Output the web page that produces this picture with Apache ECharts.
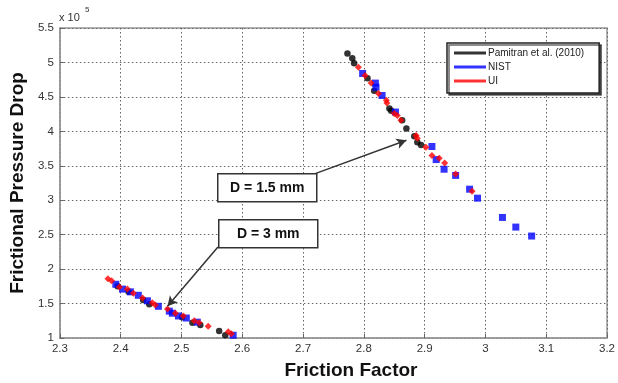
<!DOCTYPE html>
<html><head><meta charset="utf-8">
<script src="https://cdn.jsdelivr.net/npm/echarts@6/dist/echarts.min.js"></script>
<style>html,body{margin:0;padding:0;background:#fff}#c{width:618px;height:383px}</style>
</head><body><div id="c"></div>
<script>
// values: [friction factor, frictional pressure drop (x 10^5)]
const pamitran = [
  [2.773,5.13],[2.781,5.06],[2.784,4.99],[2.806,4.77],[2.817,4.59],[2.842,4.33],[2.845,4.30],
  [2.863,4.16],[2.870,4.04],[2.883,3.93],[2.888,3.84],[2.894,3.80],
  [2.395,1.75],[2.413,1.67],[2.437,1.55],[2.447,1.49],[2.501,1.30],[2.518,1.22],[2.531,1.19],
  [2.562,1.10],[2.572,1.04]
];
const nist = [
  [2.798,4.84],[2.819,4.70],[2.820,4.64],[2.830,4.52],[2.852,4.28],[2.912,3.78],[2.919,3.59],
  [2.932,3.45],[2.951,3.36],[2.974,3.16],[2.987,3.03],[3.028,2.75],[3.050,2.61],[3.076,2.48],
  [2.392,1.78],[2.403,1.71],[2.416,1.67],[2.429,1.62],[2.444,1.54],[2.462,1.46],[2.480,1.39],
  [2.485,1.36],[2.495,1.32],[2.508,1.29],[2.526,1.23],[2.585,1.04]
];
const ui = [
  [2.791,4.93],[2.802,4.81],[2.812,4.70],[2.824,4.55],[2.837,4.45],[2.838,4.41],[2.850,4.26],
  [2.855,4.23],[2.861,4.16],[2.886,3.94],[2.888,3.90],[2.902,3.77],[2.912,3.65],[2.924,3.61],
  [2.933,3.54],[2.951,3.38],[2.978,3.13],
  [2.379,1.86],[2.385,1.83],[2.398,1.74],[2.411,1.71],[2.421,1.65],[2.436,1.58],[2.452,1.51],
  [2.457,1.48],[2.477,1.42],[2.490,1.36],[2.503,1.32],[2.521,1.25],[2.529,1.22],[2.544,1.17],
  [2.577,1.09],[2.582,1.06]
];
const seriesNames = ['Pamitran et al. (2010)','NIST','UI'];
const xTicks = {min:2.3, max:3.2, interval:0.1};
const yTicks = {min:1, max:5.5, interval:0.5};
const xTitle = 'Friction Factor';
const yTitle = 'Frictional Pressure Drop';
// annotation arrows (data coords): [from, to]
const arrow15 = [[2.721,3.39],[2.870,3.87]];
const arrow3 = [[2.560,2.32],[2.477,1.46]];

const chart = echarts.init(document.getElementById('c'));
const font = 'Liberation Sans, Arial, sans-serif';
const boxStyle = {fill:'#fff', stroke:'#333', lineWidth:1.5};
const gridLine = {show:true, lineStyle:{color:'#666', type:[1.5,2.5], width:1}};
chart.setOption({
  animation:false,
  grid:{left:59, right:9, top:28, bottom:45, show:true, borderColor:'#999', borderWidth:1.5},
  xAxis:{type:'value', min:xTicks.min, max:xTicks.max, interval:xTicks.interval,
    axisLine:{show:true, lineStyle:{color:'#999', width:1.5}},
    axisTick:{show:true, inside:true, length:4, lineStyle:{color:'#666'}},
    axisLabel:{fontFamily:font, fontSize:11.5, color:'#333', margin:5,
      formatter:v=>String(+v.toFixed(1))},
    splitLine:gridLine},
  yAxis:{type:'value', min:yTicks.min, max:yTicks.max, interval:yTicks.interval,
    name:yTitle, nameLocation:'middle', nameGap:31,
    nameTextStyle:{fontFamily:font, fontWeight:'bold', fontSize:19, color:'#111'},
    axisLine:{show:true, lineStyle:{color:'#999', width:1.5}},
    axisTick:{show:true, inside:true, length:4, lineStyle:{color:'#666'}},
    axisLabel:{fontFamily:font, fontSize:11.5, color:'#333', margin:6,
      formatter:v=>String(+v.toFixed(1))},
    splitLine:gridLine},
  legend:{orient:'vertical', left:447, top:43,
    data:seriesNames, icon:'rect', itemWidth:32, itemHeight:3, itemGap:4,
    padding:[5,15,7,7], backgroundColor:'#fff', borderColor:'#222', borderWidth:1.5,
    shadowColor:'rgba(0,0,0,0.6)', shadowOffsetX:2, shadowOffsetY:2, shadowBlur:0,
    textStyle:{fontFamily:font, fontSize:10, color:'#222', padding:[0,0,0,-3]}},
  series:[
    {name:seriesNames[0], type:'scatter', data:pamitran, symbol:'circle', symbolSize:6.5,
      itemStyle:{color:'#000'}, z:2,
      markLine:{silent:true, symbol:['none','arrow'], symbolSize:[8,10],
        label:{show:false}, lineStyle:{color:'#333', width:1.5, type:'solid'},
        data:[[{coord:arrow15[0]},{coord:arrow15[1]}],[{coord:arrow3[0]},{coord:arrow3[1]}]]}},
    {name:seriesNames[1], type:'scatter', data:nist, symbol:'rect', symbolSize:7,
      itemStyle:{color:'#0000ff'}, z:3},
    {name:seriesNames[2], type:'scatter', data:ui, symbol:'diamond', symbolSize:7,
      itemStyle:{color:'#ff0000'}, z:4}
  ],
  graphic:[
    {type:'text', left:59, top:12, z:100, style:{text:'x 10', fontFamily:font, fontSize:11, fill:'#333'}},
    {type:'text', left:85, top:6, z:100, style:{text:'5', fontFamily:font, fontSize:8, fill:'#333'}},
    {type:'text', x:351, y:371, z:100, style:{text:xTitle, fontFamily:font, fontWeight:'bold', fontSize:19, fill:'#111', align:'center', verticalAlign:'middle'}},
    {type:'group', left:217, top:173, z:100, children:[
      {type:'rect', z:100, shape:{x:0,y:0,width:99,height:28}, style:boxStyle},
      {type:'text', z:101, x:49.5, y:14, style:{text:'D = 1.5 mm', fontFamily:font, fontWeight:'bold', fontSize:14, fill:'#111', align:'center', verticalAlign:'middle'}}
    ]},
    {type:'group', left:218, top:219, z:100, children:[
      {type:'rect', z:100, shape:{x:0,y:0,width:99,height:28}, style:boxStyle},
      {type:'text', z:101, x:49.5, y:14, style:{text:'D = 3 mm', fontFamily:font, fontWeight:'bold', fontSize:14, fill:'#111', align:'center', verticalAlign:'middle'}}
    ]}
  ]
});
</script></body></html>
